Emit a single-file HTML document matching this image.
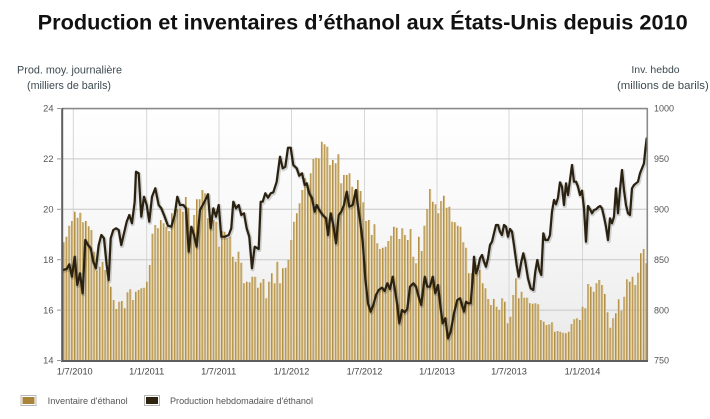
<!DOCTYPE html>
<html>
<head>
<meta charset="utf-8">
<style>
html,body{margin:0;padding:0;background:#fff;}
svg{display:block;}
text{font-family:"Liberation Sans",Arial,sans-serif;}
</style>
</head>
<body>
<svg width="710" height="419" viewBox="0 0 710 419" xmlns="http://www.w3.org/2000/svg">
<defs>
<linearGradient id="plotbg" x1="0" y1="0" x2="0" y2="1">
<stop offset="0" stop-color="#ffffff"/>
<stop offset="0.45" stop-color="#f8f8f8"/>
<stop offset="1" stop-color="#e9e9e9"/>
</linearGradient>
<linearGradient id="bg" x1="0" y1="0" x2="1" y2="0">
<stop offset="0" stop-color="#9f7929"/>
<stop offset="0.35" stop-color="#c2a25c"/>
<stop offset="0.6" stop-color="#d9c393"/>
<stop offset="1" stop-color="#d9c393"/>
</linearGradient>
<pattern id="bp" patternUnits="userSpaceOnUse" x="62.8" y="0" width="2.775" height="419">
<rect x="0" y="0" width="2.775" height="419" fill="url(#bg)"/>
</pattern>
<clipPath id="pc"><rect x="62" y="108.5" width="585" height="252.5"/></clipPath>
</defs>

<!-- Title -->
<text x="37.7" y="29.5" font-size="21.7" font-weight="bold" fill="#111" textLength="650" lengthAdjust="spacingAndGlyphs">Production et inventaires d’éthanol aux États-Unis depuis 2010</text>

<!-- Axis titles -->
<text x="17" y="73.5" font-size="10.8" fill="#3d4a50" textLength="105" lengthAdjust="spacingAndGlyphs">Prod. moy. journalière</text>
<text x="27" y="89" font-size="10.8" fill="#3d4a50" textLength="84" lengthAdjust="spacingAndGlyphs">(milliers de barils)</text>
<text x="655.5" y="73" font-size="10.5" fill="#3d4a50" text-anchor="middle">Inv. hebdo</text>
<text x="617" y="89" font-size="11.4" fill="#3d4a50">(millions de barils)</text>

<!-- Plot background -->
<rect x="62" y="108.5" width="585" height="252.5" fill="url(#plotbg)"/>

<!-- Grid -->
<g stroke="#d6d6d6" stroke-width="1">
<line x1="73.3" y1="108.5" x2="73.3" y2="361"/>
<line x1="146.7" y1="108.5" x2="146.7" y2="361"/>
<line x1="219" y1="108.5" x2="219" y2="361"/>
<line x1="291.5" y1="108.5" x2="291.5" y2="361"/>
<line x1="364.5" y1="108.5" x2="364.5" y2="361"/>
<line x1="437" y1="108.5" x2="437" y2="361"/>
<line x1="509" y1="108.5" x2="509" y2="361"/>
<line x1="582.5" y1="108.5" x2="582.5" y2="361"/>
</g>
<g stroke="#c8c8c8" stroke-width="1">
<line x1="62" y1="158.9" x2="647" y2="158.9"/>
<line x1="62" y1="209.3" x2="647" y2="209.3"/>
<line x1="62" y1="259.7" x2="647" y2="259.7"/>
<line x1="62" y1="310.1" x2="647" y2="310.1"/>
</g>

<!-- Bars -->
<g clip-path="url(#pc)">
<path fill="url(#bp)" d="M62.8,361
V242.3h2.1V361m0.675,0V236.7h2.1V361m0.675,0V225.7h2.1V361m0.675,0V221h2.1V361m0.675,0V211.7h2.1V361m0.675,0V217.7h2.1V361m0.675,0V212.7h2.1V361m0.675,0V222.3h2.1V361m0.675,0V221h2.1V361m0.675,0V226.3h2.1V361m0.675,0
V230h2.1V361m0.675,0V251.7h2.1V361m0.675,0V270.7h2.1V361m0.675,0V266.7h2.1V361m0.675,0V261.7h2.1V361m0.675,0V270h2.1V361m0.675,0V278.3h2.1V361m0.675,0V286.7h2.1V361m0.675,0V300h2.1V361m0.675,0V309h2.1V361m0.675,0
V301.7h2.1V361m0.675,0V301h2.1V361m0.675,0V308.3h2.1V361m0.675,0V292.3h2.1V361m0.675,0V289.3h2.1V361m0.675,0V300h2.1V361m0.675,0V291.7h2.1V361m0.675,0V290h2.1V361m0.675,0V288.3h2.1V361m0.675,0V287.7h2.1V361m0.675,0
V281.7h2.1V361m0.675,0V265h2.1V361m0.675,0V233.7h2.1V361m0.675,0V225h2.1V361m0.675,0V228.3h2.1V361m0.675,0
V220h2.1V361m0.675,0V223.3h2.1V361m0.675,0V226.7h2.1V361m0.675,0V231h2.1V361m0.675,0V213.3h2.1V361m0.675,0V210h2.1V361m0.675,0V209h2.1V361m0.675,0V208.3h2.1V361m0.675,0V211.7h2.1V361m0.675,0V197h2.1V361m0.675,0
V207.7h2.1V361m0.675,0V226.7h2.1V361m0.675,0V215h2.1V361m0.675,0V199.3h2.1V361m0.675,0V199.3h2.1V361m0.675,0V190h2.1V361m0.675,0V193.3h2.1V361m0.675,0V218.3h2.1V361m0.675,0V215h2.1V361m0.675,0V220h2.1V361m0.675,0
V221.7h2.1V361m0.675,0V246.7h2.1V361m0.675,0V231h2.1V361m0.675,0V231.7h2.1V361m0.675,0V238.3h2.1V361m0.675,0V236.7h2.1V361m0.675,0V256.7h2.1V361m0.675,0V261.7h2.1V361m0.675,0V251.7h2.1V361m0.675,0V262.7h2.1V361m0.675,0
V283.3h2.1V361m0.675,0V281.7h2.1V361m0.675,0V282.3h2.1V361m0.675,0V276.7h2.1V361m0.675,0V276.7h2.1V361m0.675,0
V287.7h2.1V361m0.675,0V282.7h2.1V361m0.675,0V279h2.1V361m0.675,0V298.3h2.1V361m0.675,0V281.7h2.1V361m0.675,0V273.3h2.1V361m0.675,0V283.3h2.1V361m0.675,0V261.7h2.1V361m0.675,0V283.3h2.1V361m0.675,0V268.3h2.1V361m0.675,0
V267.7h2.1V361m0.675,0V260h2.1V361m0.675,0V240h2.1V361m0.675,0V221.7h2.1V361m0.675,0V213.3h2.1V361m0.675,0V203.3h2.1V361m0.675,0V190h2.1V361m0.675,0V178.3h2.1V361m0.675,0V185h2.1V361m0.675,0V173.3h2.1V361m0.675,0
V159h2.1V361m0.675,0V157.7h2.1V361m0.675,0V158.3h2.1V361m0.675,0V141.7h2.1V361m0.675,0V144.3h2.1V361m0.675,0V146.7h2.1V361m0.675,0V165h2.1V361m0.675,0V160h2.1V361m0.675,0V163.3h2.1V361m0.675,0V154.3h2.1V361m0.675,0
V183.3h2.1V361m0.675,0V175h2.1V361m0.675,0V175h2.1V361m0.675,0V173.3h2.1V361m0.675,0V186.7h2.1V361m0.675,0
V190h2.1V361m0.675,0V180h2.1V361m0.675,0V191h2.1V361m0.675,0V202.3h2.1V361m0.675,0V221h2.1V361m0.675,0V220h2.1V361m0.675,0V235h2.1V361m0.675,0V224.3h2.1V361m0.675,0V243.3h2.1V361m0.675,0V249h2.1V361m0.675,0
V247.7h2.1V361m0.675,0V246.7h2.1V361m0.675,0V241h2.1V361m0.675,0V235.7h2.1V361m0.675,0V226.7h2.1V361m0.675,0V227.7h2.1V361m0.675,0V239h2.1V361m0.675,0V228.3h2.1V361m0.675,0V235h2.1V361m0.675,0V240h2.1V361m0.675,0
V229h2.1V361m0.675,0V256.7h2.1V361m0.675,0V263.3h2.1V361m0.675,0V236.7h2.1V361m0.675,0V251h2.1V361m0.675,0V225.7h2.1V361m0.675,0V209h2.1V361m0.675,0V189h2.1V361m0.675,0V201.7h2.1V361m0.675,0V204.3h2.1V361m0.675,0
V213.3h2.1V361m0.675,0V201h2.1V361m0.675,0V195.7h2.1V361m0.675,0V207.7h2.1V361m0.675,0V206.7h2.1V361m0.675,0V221.7h2.1V361m0.675,0
V222.3h2.1V361m0.675,0V225.7h2.1V361m0.675,0V226.7h2.1V361m0.675,0V242.3h2.1V361m0.675,0V247.7h2.1V361m0.675,0V273.3h2.1V361m0.675,0V273.3h2.1V361m0.675,0V265h2.1V361m0.675,0V265h2.1V361m0.675,0V270h2.1V361m0.675,0
V283.3h2.1V361m0.675,0V288.3h2.1V361m0.675,0V299h2.1V361m0.675,0V305h2.1V361m0.675,0V299h2.1V361m0.675,0V306.7h2.1V361m0.675,0V310h2.1V361m0.675,0V298.3h2.1V361m0.675,0V301.7h2.1V361m0.675,0V323.3h2.1V361m0.675,0
V316.7h2.1V361m0.675,0V295h2.1V361m0.675,0V278.3h2.1V361m0.675,0V298.3h2.1V361m0.675,0V291.7h2.1V361m0.675,0V297.7h2.1V361m0.675,0V297.7h2.1V361m0.675,0V303.3h2.1V361m0.675,0V303.7h2.1V361m0.675,0V303.3h2.1V361m0.675,0
V304.3h2.1V361m0.675,0V320h2.1V361m0.675,0V321.7h2.1V361m0.675,0V325h2.1V361m0.675,0V324.3h2.1V361m0.675,0V322.3h2.1V361m0.675,0V331.7h2.1V361m0.675,0V331h2.1V361m0.675,0V331.7h2.1V361m0.675,0
V332.7h2.1V361m0.675,0V333.3h2.1V361m0.675,0V331.7h2.1V361m0.675,0V324h2.1V361m0.675,0V319.3h2.1V361m0.675,0V318.3h2.1V361m0.675,0V320h2.1V361m0.675,0V306.7h2.1V361m0.675,0V308.3h2.1V361m0.675,0V284h2.1V361m0.675,0
V286.7h2.1V361m0.675,0V291.7h2.1V361m0.675,0V283.3h2.1V361m0.675,0V280h2.1V361m0.675,0V285h2.1V361m0.675,0V294h2.1V361m0.675,0V312.3h2.1V361m0.675,0V327.7h2.1V361m0.675,0V318.3h2.1V361m0.675,0V313.3h2.1V361m0.675,0
V299.3h2.1V361m0.675,0V310.7h2.1V361m0.675,0V296.7h2.1V361m0.675,0V279.3h2.1V361m0.675,0V281.7h2.1V361m0.675,0V276.7h2.1V361m0.675,0V285h2.1V361m0.675,0V272.7h2.1V361m0.675,0V253.3h2.1V361m0.675,0V249h2.1V361m0.675,0
V263.3h2.1V361z"/>

<!-- Production line -->
<g fill="none" stroke-linejoin="round" stroke-linecap="round">
<polyline transform="translate(0.6,1)" stroke="#000" stroke-opacity="0.16" stroke-width="4.2" points="62.7,270 66.7,269 69.3,264.3 72,276.7 74.7,256.7 77.3,285 80,273.3 82.7,293.3 85.3,240 88,245 90.7,248.3 93.3,261.7 96,268.3 98.7,245 101.3,235 104,238.3 106.7,265 108.7,280 110.7,238.3 113.3,230 116,228.3 118.7,230 121.3,245 124,233.3 126.7,221.7 129.3,215 132,223.3 134.7,201.7 136,171.7 138.7,173.3 141.3,216.7 144,196.7 146.7,205 149.3,221.7 152,196.7 155.3,188.3 158.7,205 161.3,208.3 164.7,216.7 168,225.7 171.3,226.7 174.7,215 177.3,196.7 180,205 183.3,205 186,208.3 188.7,251.7 191.3,226.7 194,235 196.7,246.7 200,210 202.7,205 205.3,200 208,194.3 210.7,228.3 213.3,208.3 216,216.7 218.7,205 221.3,236.7 224.7,236.7 228.7,235 231.3,228.3 233.3,201.7 236,208.3 238.7,205 241.3,215 244,213.3 246.7,228.3 249.3,236.7 252,268.3 254.7,246.7 258.7,249 260.7,201.7 262.7,201.7 265.3,193.3 268,197.7 270.7,193.3 273.3,192.3 276.7,181.7 280,156.7 282.7,168.3 285.3,166.7 288,147.7 290.7,147.7 293.3,165 296.7,168.3 299.3,175.7 302,173.3 304.7,185 306.7,183.3 309.3,193.3 312,198.3 314.7,211.7 316.7,205 319.3,210 322.7,215 326,218.3 328,235 330.7,213.3 333.3,225 336,243.3 338.7,215 341.3,211.7 344,205 346.7,191.7 349.3,206.7 352.7,205 356,190 357.3,201.7 360,220 362.7,241.7 365.3,278.3 368,303.3 370.7,311.7 373.3,305 376,295 378.7,290 382,287.7 384.7,291 387.3,283.3 390,289 392.7,276.7 395.3,291.7 397.3,305 399.3,323.3 402,310 404.7,312.3 407.3,309 410,286.7 413.3,283.3 416,286.7 418.7,296.7 421.3,305 424.7,276.7 427.3,286.7 430,286.7 432.7,276.7 435.3,293.3 438,285 440.7,308.3 442.7,323.3 445.3,318.3 448,338.3 450.7,331.7 454,313.3 457.3,300 460,298.3 462,305 464,311.7 466,301.7 468,303.3 470.7,303.3 472.7,278.3 474,256.7 476,273.3 478,268.3 480,258.3 482,255 484,261.7 486,266.7 488,258.3 490,245 492,241.7 494,233.3 496,225 498,225 500,231.7 502,235 504,225 506,226.7 508,236.7 510,229 512,231.7 514,245 516.7,265 518.7,276.7 521.3,261.7 523.3,253.3 525.3,261.7 528,278.3 530.7,288.3 533.3,290 535.3,271.7 537.3,260 539.3,270 541.3,275 543.3,233.3 545.3,240 548,240 550,235 552,211.7 554,200 556,204.3 558,197.7 560,182.3 562,186.7 564,205 566,183.3 568,195 570,180 572,165 574,181.7 576,181.7 578,186.7 580,195 582,190.7 584,208.3 586,241.7 588,206 590,209.3 592,213.3 594,210 596,209.3 598,207.3 600,206 602,208.3 604,216.7 606,226.7 608,240 610,218.3 612,223.3 614,216.7 616,188.3 618,213.3 620,190 622,170 624,190 626,205 628,213.3 630,215 632,188.3 634,185 636,183.3 638,181.7 640,173.3 642,168.3 644,163.3 645.3,150 646.7,138.3"/>
<polyline stroke="#2a2110" stroke-width="2.2" points="62.7,270 66.7,269 69.3,264.3 72,276.7 74.7,256.7 77.3,285 80,273.3 82.7,293.3 85.3,240 88,245 90.7,248.3 93.3,261.7 96,268.3 98.7,245 101.3,235 104,238.3 106.7,265 108.7,280 110.7,238.3 113.3,230 116,228.3 118.7,230 121.3,245 124,233.3 126.7,221.7 129.3,215 132,223.3 134.7,201.7 136,171.7 138.7,173.3 141.3,216.7 144,196.7 146.7,205 149.3,221.7 152,196.7 155.3,188.3 158.7,205 161.3,208.3 164.7,216.7 168,225.7 171.3,226.7 174.7,215 177.3,196.7 180,205 183.3,205 186,208.3 188.7,251.7 191.3,226.7 194,235 196.7,246.7 200,210 202.7,205 205.3,200 208,194.3 210.7,228.3 213.3,208.3 216,216.7 218.7,205 221.3,236.7 224.7,236.7 228.7,235 231.3,228.3 233.3,201.7 236,208.3 238.7,205 241.3,215 244,213.3 246.7,228.3 249.3,236.7 252,268.3 254.7,246.7 258.7,249 260.7,201.7 262.7,201.7 265.3,193.3 268,197.7 270.7,193.3 273.3,192.3 276.7,181.7 280,156.7 282.7,168.3 285.3,166.7 288,147.7 290.7,147.7 293.3,165 296.7,168.3 299.3,175.7 302,173.3 304.7,185 306.7,183.3 309.3,193.3 312,198.3 314.7,211.7 316.7,205 319.3,210 322.7,215 326,218.3 328,235 330.7,213.3 333.3,225 336,243.3 338.7,215 341.3,211.7 344,205 346.7,191.7 349.3,206.7 352.7,205 356,190 357.3,201.7 360,220 362.7,241.7 365.3,278.3 368,303.3 370.7,311.7 373.3,305 376,295 378.7,290 382,287.7 384.7,291 387.3,283.3 390,289 392.7,276.7 395.3,291.7 397.3,305 399.3,323.3 402,310 404.7,312.3 407.3,309 410,286.7 413.3,283.3 416,286.7 418.7,296.7 421.3,305 424.7,276.7 427.3,286.7 430,286.7 432.7,276.7 435.3,293.3 438,285 440.7,308.3 442.7,323.3 445.3,318.3 448,338.3 450.7,331.7 454,313.3 457.3,300 460,298.3 462,305 464,311.7 466,301.7 468,303.3 470.7,303.3 472.7,278.3 474,256.7 476,273.3 478,268.3 480,258.3 482,255 484,261.7 486,266.7 488,258.3 490,245 492,241.7 494,233.3 496,225 498,225 500,231.7 502,235 504,225 506,226.7 508,236.7 510,229 512,231.7 514,245 516.7,265 518.7,276.7 521.3,261.7 523.3,253.3 525.3,261.7 528,278.3 530.7,288.3 533.3,290 535.3,271.7 537.3,260 539.3,270 541.3,275 543.3,233.3 545.3,240 548,240 550,235 552,211.7 554,200 556,204.3 558,197.7 560,182.3 562,186.7 564,205 566,183.3 568,195 570,180 572,165 574,181.7 576,181.7 578,186.7 580,195 582,190.7 584,208.3 586,241.7 588,206 590,209.3 592,213.3 594,210 596,209.3 598,207.3 600,206 602,208.3 604,216.7 606,226.7 608,240 610,218.3 612,223.3 614,216.7 616,188.3 618,213.3 620,190 622,170 624,190 626,205 628,213.3 630,215 632,188.3 634,185 636,183.3 638,181.7 640,173.3 642,168.3 644,163.3 645.3,150 646.7,138.3"/>
</g>
</g>

<!-- Frame -->
<line x1="62" y1="108.6" x2="647.5" y2="108.6" stroke="#8a8a8a" stroke-width="1.6"/>
<line x1="647.3" y1="108" x2="647.3" y2="361" stroke="#8a8a8a" stroke-width="1.6"/>
<line x1="62.2" y1="108" x2="62.2" y2="362" stroke="#5e5e5e" stroke-width="2"/>
<line x1="61" y1="361" x2="648" y2="361" stroke="#5e5e5e" stroke-width="2"/>

<!-- Left ticks -->
<g stroke="#9a9a9a" stroke-width="1">
<line x1="57" y1="108.5" x2="62" y2="108.5"/>
<line x1="57" y1="158.9" x2="62" y2="158.9"/>
<line x1="57" y1="209.3" x2="62" y2="209.3"/>
<line x1="57" y1="259.7" x2="62" y2="259.7"/>
<line x1="57" y1="310.1" x2="62" y2="310.1"/>
<line x1="57" y1="360.5" x2="62" y2="360.5"/>
</g>
<g font-size="9.3" fill="#555" text-anchor="end">
<text x="53.5" y="111.7">24</text>
<text x="53.5" y="162.1">22</text>
<text x="53.5" y="212.5">20</text>
<text x="53.5" y="262.9">18</text>
<text x="53.5" y="313.3">16</text>
<text x="53.5" y="363.7">14</text>
</g>
<g font-size="9" fill="#555">
<text x="654" y="111.7">1000</text>
<text x="654" y="162.1">950</text>
<text x="654" y="212.5">900</text>
<text x="654" y="262.9">850</text>
<text x="654" y="313.3">800</text>
<text x="654" y="363.7">750</text>
</g>

<!-- X labels -->
<g font-size="9.2" fill="#444" text-anchor="middle">
<text x="74.8" y="374.5">1/7/2010</text>
<text x="146.7" y="374.5">1/1/2011</text>
<text x="218.7" y="374.5">1/7/2011</text>
<text x="291.5" y="374.5">1/1/2012</text>
<text x="364.5" y="374.5">1/7/2012</text>
<text x="437" y="374.5">1/1/2013</text>
<text x="509" y="374.5">1/7/2013</text>
<text x="582.5" y="374.5">1/1/2014</text>
</g>

<!-- Legend -->
<rect x="21" y="395.5" width="15" height="10" fill="#fff" stroke="#b8b8b8" stroke-width="1"/>
<rect x="22.5" y="397" width="12" height="7" fill="#a8853a"/>
<text x="47.7" y="404" font-size="9.2" fill="#555" textLength="80" lengthAdjust="spacingAndGlyphs">Inventaire d'éthanol</text>
<rect x="144.5" y="395.5" width="15" height="10" fill="#fff" stroke="#b8b8b8" stroke-width="1"/>
<rect x="146" y="397" width="12" height="7" fill="#2d2410"/>
<text x="170" y="404" font-size="9.2" fill="#555" textLength="143" lengthAdjust="spacingAndGlyphs">Production hebdomadaire d'éthanol</text>
</svg>
</body>
</html>
